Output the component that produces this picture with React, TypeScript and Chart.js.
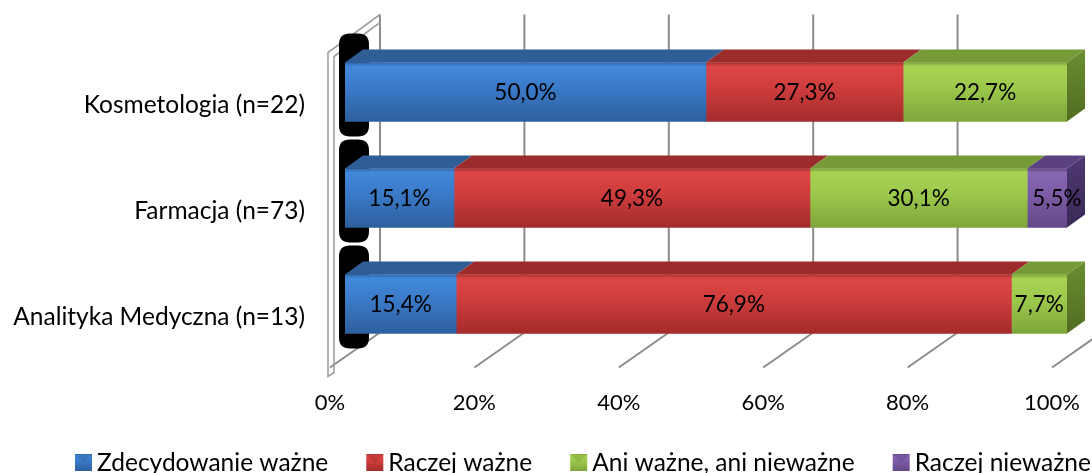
import React, { useEffect, useRef } from "react";
import { Chart, registerables } from "chart.js";

Chart.register(...registerables);

// ---------- data ----------
const categories = ["Kosmetologia (n=22)", "Farmacja (n=73)", "Analityka Medyczna (n=13)"];
const seriesNames = ["Zdecydowanie ważne", "Raczej ważne", "Ani ważne, ani nieważne", "Raczej nieważne"];
const zdecydowanieWazne = [50.0, 15.1, 15.4];
const raczejWazne = [27.3, 49.3, 76.9];
const aniWazneAniNiewazne = [22.7, 30.1, 7.7];
const raczejNiewazne = [0, 5.5, 0];
const xTickValues = [0, 20, 40, 60, 80, 100];

// ---------- styles ----------
const FONT = "Lato, 'Open Sans', sans-serif";
const W = 1092;
const H = 473;
const BAR = 59;
const DX = 18; // bar depth
const DY = -13;
const BACK_DX = 35; // back wall offset from bar front plane
const BACK_DY = -24.5;
const FLOOR_DX = -15; // floor front edge offset
const FLOOR_DY = 10.5;

type Pal = { stops: [number, string][]; top: string; side: [string, string] };
const palettes: Pal[] = [
  { stops: [[0, "#3468aa"], [0.07, "#4189da"], [0.45, "#3a79c7"], [1, "#2e5f9d"]], top: "#2f5e97", side: ["#2a5388", "#1f3f69"] },
  { stops: [[0, "#a93030"], [0.07, "#de4646"], [0.45, "#cd3c3c"], [1, "#a42b2b"]], top: "#9c2b2b", side: ["#8a2626", "#6a1c1c"] },
  { stops: [[0, "#7fa33c"], [0.07, "#a8d354"], [0.45, "#9bc74b"], [1, "#7ea53b"]], top: "#779a38", side: ["#6a8d30", "#516d22"] },
  { stops: [[0, "#5f4585"], [0.07, "#8767b2"], [0.45, "#7c5ba5"], [1, "#634889"]], top: "#5b4180", side: ["#4e3872", "#3a2956"] },
];
const flatColors = ["#3a79c7", "#cd3c3c", "#9bc74b", "#7c5ba5"];

const seriesValues = [zdecydowanieWazne, raczejWazne, aniWazneAniNiewazne, raczejNiewazne];

function fmt(v: number) {
  return v.toFixed(1).replace(".", ",") + "%";
}

function makeGrad(ctx: CanvasRenderingContext2D, p: Pal, y0: number, y1: number) {
  const g = ctx.createLinearGradient(0, y0, 0, y1);
  p.stops.forEach(([o, c]) => g.addColorStop(o, c));
  return g;
}

function roundRect(ctx: CanvasRenderingContext2D, x: number, y: number, w: number, h: number, r: number) {
  ctx.beginPath();
  ctx.moveTo(x + r, y);
  ctx.lineTo(x + w - r, y);
  ctx.quadraticCurveTo(x + w, y, x + w, y + r);
  ctx.lineTo(x + w, y + h - r);
  ctx.quadraticCurveTo(x + w, y + h, x + w - r, y + h);
  ctx.lineTo(x + r, y + h);
  ctx.quadraticCurveTo(x, y + h, x, y + h - r);
  ctx.lineTo(x, y + r);
  ctx.quadraticCurveTo(x, y, x + r, y);
  ctx.closePath();
}

const threeD = {
  id: "threeD",
  beforeDatasetsDraw(chart: any) {
    const ctx: CanvasRenderingContext2D = chart.ctx;
    const xs = chart.scales.x;
    const ys = chart.scales.y;
    const area = chart.chartArea;
    ctx.save();
    // back wall gridlines + floor lines
    ctx.strokeStyle = "#8c8c8c";
    ctx.lineWidth = 2;
    xTickValues.forEach((v) => {
      const xb = xs.getPixelForValue(v) + BACK_DX;
      ctx.beginPath();
      ctx.moveTo(xb, area.top + BACK_DY);
      ctx.lineTo(xb, area.bottom + BACK_DY);
      ctx.stroke();
      ctx.beginPath();
      ctx.moveTo(xb, area.bottom + BACK_DY);
      ctx.lineTo(xs.getPixelForValue(v) + FLOOR_DX, area.bottom + FLOOR_DY);
      ctx.stroke();
    });
    // left wall slab
    const x0 = xs.getPixelForValue(0);
    const fx = x0 + FLOOR_DX - 2;
    const bx = x0 + BACK_DX;
    ctx.strokeStyle = "#a0a0a0";
    ctx.lineWidth = 1.6;
    ctx.beginPath();
    ctx.moveTo(bx, area.top + BACK_DY);
    ctx.lineTo(fx, area.top + FLOOR_DY + 3);
    ctx.lineTo(fx, area.bottom + FLOOR_DY + 9);
    ctx.lineTo(fx + 6, area.bottom + FLOOR_DY + 5);
    ctx.lineTo(fx + 6, area.top + FLOOR_DY + 7);
    ctx.lineTo(bx, area.top + BACK_DY + 8);
    ctx.stroke();

    // black end caps (rendering artefacts of original)
    ctx.fillStyle = "#000";
    categories.forEach((_, i) => {
      const yc = ys.getPixelForValue(i);
      const yT = yc - BAR / 2;
      const yB = yc + BAR / 2;
      roundRect(ctx, x0 - 6, yT - 29, 30, yB - yT + 44, 11);
      ctx.fill();
    });

    // top faces and right faces
    categories.forEach((_, i) => {
      let last = -1;
      seriesValues.forEach((s, d) => {
        if (s[i] > 0) last = d;
      });
      seriesValues.forEach((s, d) => {
        if (!(s[i] > 0)) return;
        const el = chart.getDatasetMeta(d).data[i];
        const p = el.getProps(["x", "y", "base", "height"], true);
        const a = Math.min(p.x, p.base);
        const b = Math.max(p.x, p.base);
        const yT = p.y - p.height / 2;
        const yB = p.y + p.height / 2;
        ctx.fillStyle = palettes[d].top;
        ctx.beginPath();
        ctx.moveTo(a, yT);
        ctx.lineTo(b, yT);
        ctx.lineTo(b + DX, yT + DY);
        ctx.lineTo(a + DX, yT + DY);
        ctx.closePath();
        ctx.fill();
        if (d === last) {
          const g = ctx.createLinearGradient(0, yT + DY, 0, yB);
          g.addColorStop(0, palettes[d].side[0]);
          g.addColorStop(1, palettes[d].side[1]);
          ctx.fillStyle = g;
          ctx.beginPath();
          ctx.moveTo(b, yT);
          ctx.lineTo(b + DX, yT + DY);
          ctx.lineTo(b + DX, yB + DY);
          ctx.lineTo(b, yB);
          ctx.closePath();
          ctx.fill();
        }
      });
    });
    ctx.restore();
  },
  afterDatasetsDraw(chart: any) {
    const ctx: CanvasRenderingContext2D = chart.ctx;
    const xs = chart.scales.x;
    const ys = chart.scales.y;
    const area = chart.chartArea;
    ctx.save();
    ctx.fillStyle = "#000";
    ctx.textBaseline = "middle";
    // data labels
    ctx.font = `22.5px ${FONT}`;
    seriesValues.forEach((s, d) => {
      s.forEach((v, i) => {
        if (!(v > 0)) return;
        const el = chart.getDatasetMeta(d).data[i];
        const p = el.getProps(["x", "y", "base"], true);
        const a = Math.min(p.x, p.base);
        const b = Math.max(p.x, p.base);
        const t = fmt(v);
        const w = ctx.measureText(t).width;
        let cx = (a + b) / 2;
        if (w > b - a - 4) cx = a + 5 + w / 2;
        ctx.textAlign = "center";
        ctx.fillText(t, cx, p.y + 1);
      });
    });
    // x tick labels
    ctx.font = `22px ${FONT}`;
    ctx.textAlign = "center";
    xTickValues.forEach((v) => {
      ctx.fillText(v + "%", xs.getPixelForValue(v) + FLOOR_DX, area.bottom + 46);
    });
    // category labels
    ctx.font = `24.5px ${FONT}`;
    ctx.textAlign = "right";
    categories.forEach((c, i) => {
      ctx.fillText(c, 305, ys.getPixelForValue(i) + 13);
    });
    // legend
    let lx = 75;
    const ly = 462;
    ctx.textAlign = "left";
    seriesNames.forEach((n, d) => {
      const g = makeGrad(ctx, palettes[d], ly - 8, ly + 9);
      ctx.fillStyle = g;
      ctx.fillRect(lx, ly - 8, 17, 17);
      ctx.fillStyle = palettes[d].top;
      ctx.beginPath();
      ctx.moveTo(lx, ly - 8);
      ctx.lineTo(lx + 17, ly - 8);
      ctx.lineTo(lx + 8.5, ly + 1);
      ctx.closePath();
      ctx.globalAlpha = 0.35;
      ctx.fill();
      ctx.globalAlpha = 1;
      ctx.fillStyle = "#000";
      ctx.fillText(n, lx + 22, ly + 1);
      lx += 22 + ctx.measureText(n).width + 38;
    });
    ctx.restore();
  },
};

export default function App() {
  const ref = useRef<HTMLCanvasElement | null>(null);
  useEffect(() => {
    document.body.style.margin = "0";
    const canvas = ref.current!;
    const chart = new Chart(canvas, {
      type: "bar",
      data: {
        labels: categories,
        datasets: seriesNames.map((name, d) => ({
          label: name,
          data: seriesValues[d],
          borderWidth: 0,
          barThickness: BAR,
          backgroundColor: (c: any) => {
            const ys = c.chart.scales && c.chart.scales.y;
            if (!ys || c.type !== "data") return flatColors[d];
            const yc = ys.getPixelForValue(c.dataIndex);
            if (!isFinite(yc)) return flatColors[d];
            return makeGrad(c.chart.ctx, palettes[d], yc - BAR / 2, yc + BAR / 2);
          },
        })),
      },
      options: {
        indexAxis: "y",
        responsive: false,
        animation: false,
        layout: { padding: { left: 345, right: 25, top: 39, bottom: 116 } },
        scales: {
          x: { stacked: true, min: 0, max: 100, display: false },
          y: { stacked: true, display: false, offset: true },
        },
        plugins: { legend: { display: false }, tooltip: { enabled: false } },
      },
      plugins: [threeD],
    } as any);
    return () => chart.destroy();
  }, []);
  return <canvas ref={ref} width={W} height={H} style={{ display: "block" }} />;
}
